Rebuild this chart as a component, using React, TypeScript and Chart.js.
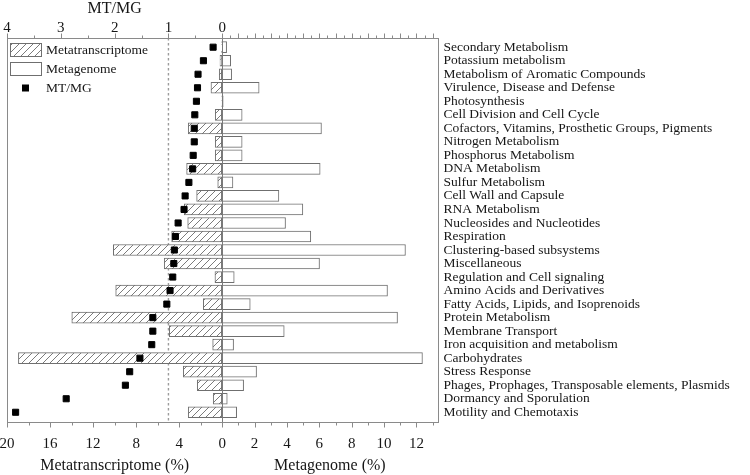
import React, { useEffect, useRef } from "react";
import { Chart, registerables } from "chart.js";

Chart.register(...registerables);

const categories = [
  "Secondary Metabolism",
  "Potassium metabolism",
  "Metabolism of Aromatic Compounds",
  "Virulence, Disease and Defense",
  "Photosynthesis",
  "Cell Division and Cell Cycle",
  "Cofactors, Vitamins, Prosthetic Groups, Pigments",
  "Nitrogen Metabolism",
  "Phosphorus Metabolism",
  "DNA Metabolism",
  "Sulfur Metabolism",
  "Cell Wall and Capsule",
  "RNA Metabolism",
  "Nucleosides and Nucleotides",
  "Respiration",
  "Clustering-based subsystems",
  "Miscellaneous",
  "Regulation and Cell signaling",
  "Amino Acids and Derivatives",
  "Fatty Acids, Lipids, and Isoprenoids",
  "Protein Metabolism",
  "Membrane Transport",
  "Iron acquisition and metabolism",
  "Carbohydrates",
  "Stress Response",
  "Phages, Prophages, Transposable elements, Plasmids",
  "Dormancy and Sporulation",
  "Motility and Chemotaxis",
];

// Metatranscriptome (%), plotted to the left
const metatranscriptome = [
  0.05, 0.21, 0.28, 1.05, 0.03, 0.65, 3.16, 0.65, 0.65, 3.31, 0.42, 2.38, 3.53, 3.21,
  4.7, 10.12, 5.39, 0.68, 9.9, 1.76, 13.98, 4.92, 0.89, 18.94, 3.62, 2.32, 0.84, 3.16,
];
// Metagenome (%), plotted to the right
const metagenome = [
  0.27, 0.52, 0.58, 2.28, 0.06, 1.23, 6.13, 1.23, 1.23, 6.05, 0.66, 3.5, 4.98, 3.91,
  5.47, 11.32, 6.01, 0.74, 10.21, 1.73, 10.83, 3.83, 0.7, 12.37, 2.12, 1.32, 0.31, 0.89,
];
// MT/MG ratio, top axis
const mtmgRatio = [
  0.17, 0.35, 0.45, 0.46, 0.48, 0.51, 0.52, 0.52, 0.54, 0.55, 0.62, 0.69, 0.71, 0.82,
  0.87, 0.89, 0.9, 0.92, 0.97, 1.03, 1.29, 1.29, 1.31, 1.53, 1.72, 1.8, 2.9, 3.84,
];

// Axis tick labels
const mtTickLabels = [20, 16, 12, 8, 4, 0];
const mgTickLabels = [2, 4, 6, 8, 10, 12];
const ratioTickLabels = [4, 3, 2, 1, 0];

const MT_MAX = 20;
const MG_MAX = 13.3;
const RATIO_MAX = 4;
const RATIO_REF = 1;

const FONT = "'Liberation Serif', 'Times New Roman', serif";
const TEXT = "#161616";
const FRAME = "#8a8a8a";
const BAR_EDGE = "#6f6f6f";

type TickObj = { value: number; major: boolean; lbl: string };

function bottomTicks(): TickObj[] {
  const t: TickObj[] = [];
  for (let v = MT_MAX; v >= 2; v -= 2) {
    const lab = mtTickLabels.includes(v);
    t.push({ value: -v, major: lab, lbl: lab ? String(v) : "" });
  }
  t.push({ value: 0, major: true, lbl: "0" });
  for (let m = 1; m <= Math.floor(MG_MAX); m++) {
    const lab = mgTickLabels.includes(m);
    t.push({ value: (m * MT_MAX) / MG_MAX, major: lab, lbl: lab ? String(m) : "" });
  }
  return t;
}

function topTicks(): TickObj[] {
  const t: TickObj[] = [];
  for (let r = RATIO_MAX; r >= 0.5; r -= 0.5) {
    const lab = ratioTickLabels.includes(r);
    t.push({ value: -r, major: lab, lbl: lab ? String(r) : "" });
  }
  t.push({ value: 0, major: true, lbl: "0" });
  for (let m = 0.5; m <= MG_MAX; m += 0.5) {
    t.push({ value: (m * RATIO_MAX) / MG_MAX, major: Number.isInteger(m), lbl: "" });
  }
  return t;
}

function makeHatch(): CanvasPattern | string {
  const s = 7;
  const c = document.createElement("canvas");
  c.width = s;
  c.height = s;
  const g = c.getContext("2d");
  if (!g) return "#fff";
  g.fillStyle = "#ffffff";
  g.fillRect(0, 0, s, s);
  g.strokeStyle = "#6c6c6c";
  g.lineWidth = 0.9;
  g.beginPath();
  g.moveTo(0, s);
  g.lineTo(s, 0);
  g.moveTo(-2, 2);
  g.lineTo(2, -2);
  g.moveTo(s - 2, s + 2);
  g.lineTo(s + 2, s - 2);
  g.stroke();
  const p = g.createPattern(c, "repeat");
  return p || "#fff";
}

const zeroPad = (s: any) => {
  s.paddingLeft = 0;
  s.paddingRight = 0;
  s.paddingTop = 0;
  s.paddingBottom = 0;
};

const decorPlugin = {
  id: "decor",
  beforeDatasetsDraw(chart: any) {
    const { ctx, chartArea: a, scales } = chart;
    const px = scales.xR.getPixelForValue(-RATIO_REF);
    ctx.save();
    ctx.strokeStyle = "#9c9c9c";
    ctx.lineWidth = 1.4;
    ctx.setLineDash([2.5, 2.5]);
    ctx.beginPath();
    ctx.moveTo(px, a.top);
    ctx.lineTo(px, a.bottom);
    ctx.stroke();
    ctx.restore();
  },
  afterDatasetsDraw(chart: any) {
    const { ctx, chartArea: a, scales } = chart;
    ctx.save();
    // zero line
    const zx = scales.x.getPixelForValue(0);
    ctx.strokeStyle = "#7a7a7a";
    ctx.lineWidth = 1;
    ctx.beginPath();
    ctx.moveTo(Math.round(zx) + 0.5, a.top);
    ctx.lineTo(Math.round(zx) + 0.5, a.bottom);
    ctx.stroke();
    // frame
    ctx.strokeStyle = FRAME;
    ctx.lineWidth = 1;
    ctx.strokeRect(
      Math.round(a.left) + 0.5,
      Math.round(a.top) + 0.5,
      Math.round(a.right) - Math.round(a.left),
      Math.round(a.bottom) - Math.round(a.top)
    );
    // tick marks
    const drawMarks = (scale: any, y0: number, dir: number) => {
      for (const t of scale.ticks) {
        const x = Math.round(scale.getPixelForValue(t.value)) + 0.5;
        const len = t.major ? 5 : 3;
        ctx.beginPath();
        ctx.moveTo(x, y0);
        ctx.lineTo(x, y0 + dir * len);
        ctx.stroke();
      }
    };
    drawMarks(scales.x, Math.round(a.bottom) + 0.5, 1);
    drawMarks(scales.xR, Math.round(a.top) + 0.5, -1);
    ctx.restore();
  },
  afterDraw(chart: any) {
    const { ctx, chartArea: a, scales } = chart;
    ctx.save();
    ctx.fillStyle = TEXT;
    ctx.textBaseline = "middle";
    ctx.textAlign = "center";
    // axis titles
    ctx.font = `16px ${FONT}`;
    ctx.fillText("MT/MG", scales.xR.getPixelForValue(-RATIO_MAX / 2), 9);
    ctx.fillText(
      "Metatranscriptome (%)",
      scales.x.getPixelForValue(-MT_MAX / 2),
      466
    );
    ctx.fillText("Metagenome (%)", (scales.x.getPixelForValue(0) + a.right) / 2, 466);

    // legend
    const ds = chart.data.datasets;
    const lx = a.left + 3;
    const ly = a.top + 5;
    ctx.font = `13.5px ${FONT}`;
    ctx.textAlign = "left";
    const rows = [ds[1], ds[2], ds[0]];
    rows.forEach((d: any, i: number) => {
      const cy = ly + 7 + i * 19;
      if (d.type === "bar") {
        ctx.fillStyle = d.backgroundColor;
        ctx.fillRect(lx, cy - 7, 32, 14);
        ctx.strokeStyle = d.borderColor;
        ctx.lineWidth = 1;
        ctx.strokeRect(lx + 0.5, cy - 6.5, 31, 13);
      } else {
        ctx.fillStyle = "#000";
        ctx.fillRect(lx + 12, cy - 3.5, 7, 7);
      }
      ctx.fillStyle = TEXT;
      ctx.fillText(d.label, lx + 36, cy + 0.5);
    });
    ctx.restore();
  },
};

export default function App() {
  const ref = useRef<HTMLCanvasElement | null>(null);

  useEffect(() => {
    if (!ref.current) return;
    const hatch = makeHatch();
    const chart = new Chart(ref.current, {
      type: "bar",
      data: {
        datasets: [
          {
            type: "line",
            label: "MT/MG",
            data: mtmgRatio.map((r, i) => ({ x: -r, y: i })),
            xAxisID: "xR",
            yAxisID: "y",
            showLine: false,
            pointStyle: "rect",
            pointRadius: 4.3,
            pointBackgroundColor: "#000",
            pointBorderColor: "#000",
            pointBorderWidth: 1,
          } as any,
          {
            type: "bar",
            label: "Metatranscriptome",
            data: metatranscriptome.map((v, i) => ({ x: -v, y: i })),
            xAxisID: "x",
            yAxisID: "y",
            backgroundColor: hatch,
            borderColor: BAR_EDGE,
            borderWidth: 1,
            borderSkipped: false,
            barThickness: 11,
            grouped: false,
          } as any,
          {
            type: "bar",
            label: "Metagenome",
            data: metagenome.map((v, i) => ({ x: v, y: i })),
            xAxisID: "xMG",
            yAxisID: "y",
            backgroundColor: "#ffffff",
            borderColor: BAR_EDGE,
            borderWidth: 1,
            borderSkipped: false,
            barThickness: 11,
            grouped: false,
          } as any,
        ],
      },
      options: {
        responsive: false,
        animation: false,
        indexAxis: "y",
        layout: { padding: { left: 7, top: 0, right: 0, bottom: 0 } },
        plugins: {
          legend: { display: false },
          tooltip: { enabled: false },
        },
        scales: {
          x: {
            type: "linear",
            position: "bottom",
            min: -MT_MAX,
            max: MT_MAX,
            offset: false,
            border: { display: false },
            grid: {
              display: true,
              drawOnChartArea: false,
              drawTicks: true,
              tickLength: 5,
              tickColor: "rgba(0,0,0,0)",
            },
            afterBuildTicks: (s: any) => {
              s.ticks = bottomTicks();
            },
            afterFit: (s: any) => {
              s.height = 53;
              zeroPad(s);
            },
            ticks: {
              autoSkip: false,
              maxRotation: 0,
              minRotation: 0,
              padding: 8.5,
              color: TEXT,
              font: { family: FONT, size: 15 },
              callback: (_v: any, i: number, ts: any[]) => ts[i].lbl,
            },
          },
          xMG: {
            type: "linear",
            display: false,
            offset: false,
            min: -MG_MAX,
            max: MG_MAX,
            afterFit: zeroPad,
          },
          xR: {
            type: "linear",
            position: "top",
            min: -RATIO_MAX,
            max: RATIO_MAX,
            offset: false,
            border: { display: false },
            grid: {
              display: true,
              drawOnChartArea: false,
              drawTicks: true,
              tickLength: 5,
              tickColor: "rgba(0,0,0,0)",
            },
            afterBuildTicks: (s: any) => {
              s.ticks = topTicks();
            },
            afterFit: (s: any) => {
              s.height = 38;
              zeroPad(s);
            },
            ticks: {
              autoSkip: false,
              maxRotation: 0,
              minRotation: 0,
              padding: -4,
              color: TEXT,
              font: { family: FONT, size: 15 },
              callback: (_v: any, i: number, ts: any[]) => ts[i].lbl,
            },
          },
          y: {
            type: "linear",
            position: "right",
            reverse: true,
            offset: false,
            min: -0.68,
            max: categories.length - 0.28,
            border: { display: false },
            grid: { display: false, drawTicks: false, offset: false },
            afterBuildTicks: (s: any) => {
              s.ticks = categories.map((_c, i) => ({ value: i }));
            },
            afterFit: (s: any) => {
              s.width = 312.5;
              zeroPad(s);
            },
            ticks: {
              autoSkip: false,
              padding: 6,
              color: TEXT,
              font: { family: FONT, size: 13.5 },
              callback: (v: any) => categories[v as number] ?? "",
            },
          },
        },
      } as any,
      plugins: [decorPlugin],
    });
    return () => chart.destroy();
  }, []);

  return (
    <div style={{ position: "absolute", left: 0, top: 0, width: 750, height: 475 }}>
      <canvas ref={ref} width={750} height={475} style={{ width: 750, height: 475 }} />
    </div>
  );
}
